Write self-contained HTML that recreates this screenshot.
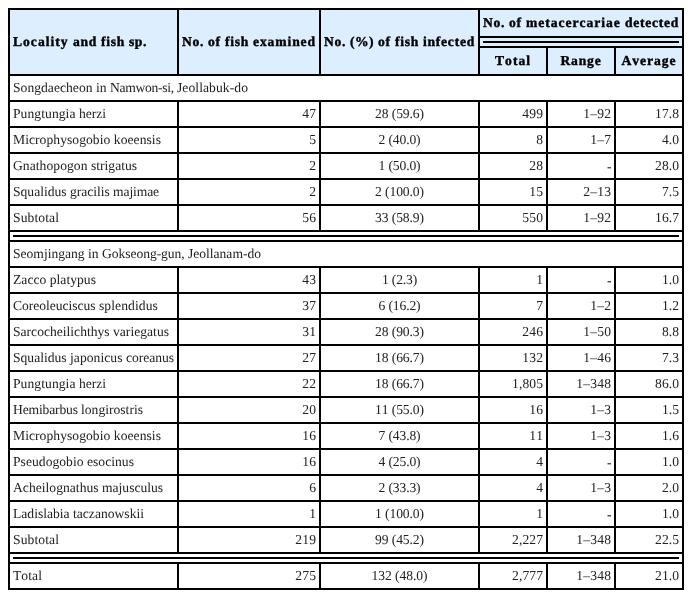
<!DOCTYPE html>
<html>
<head>
<meta charset="utf-8">
<title>Table</title>
<style>
html,body{margin:0;padding:0;background:#fff;}
body{width:692px;height:598px;overflow:hidden;font-family:"Liberation Serif",serif;font-size:13.6px;color:#000;text-rendering:geometricPrecision;font-kerning:none;font-variant-ligatures:none;}
table{position:absolute;left:8px;top:8px;width:676px;border:1px solid #000;border-collapse:separate;border-spacing:0;table-layout:fixed;will-change:transform;transform:translateZ(0);}
td,th{border:1px solid #000;padding:0 3px 1px 3px;box-sizing:border-box;height:26px;line-height:15px;vertical-align:middle;font-size:13.6px;font-weight:normal;overflow:hidden;white-space:nowrap;text-align:left;color:#222;}
th{background:#ddeeff;font-weight:bold;height:28px;color:#000;-webkit-text-stroke:0.4px #000;}
.c{text-align:center;}
.r{text-align:right;}
.hr td,.hr th{height:10px;padding:3px;line-height:0;font-size:0;}
.hr div{height:2px;background:#000;}
</style>
</head>
<body>
<table>
<colgroup><col style="width:169px"><col style="width:142px"><col style="width:159px"><col style="width:68px"><col style="width:68px"><col style="width:68px"></colgroup>
<tr><th rowspan="3"><span style="letter-spacing:1.003px">Locality </span><span style="letter-spacing:0.671px">and </span><span style="letter-spacing:0.689px">fish </span><span style="letter-spacing:0.583px">sp.</span></th><th class="c" rowspan="3"><span style="letter-spacing:0.647px">No. </span><span style="letter-spacing:0.759px">of </span><span style="letter-spacing:0.689px">fish </span><span style="letter-spacing:0.889px">examined</span></th><th class="c" rowspan="3"><span style="letter-spacing:0.647px">No. </span><span style="letter-spacing:0.488px">(%) </span><span style="letter-spacing:0.759px">of </span><span style="letter-spacing:0.689px">fish </span><span style="letter-spacing:0.743px">infected</span></th><th class="c" colspan="3"><span style="letter-spacing:0.647px">No. </span><span style="letter-spacing:0.759px">of </span><span style="letter-spacing:0.953px">metacercariae </span><span style="letter-spacing:0.711px">detected</span></th></tr>
<tr class="hr"><th colspan="3"><div></div></th></tr>
<tr><th class="c" style="letter-spacing:1.006px">Total</th><th class="c" style="letter-spacing:0.797px">Range</th><th class="c" style="letter-spacing:0.955px">Average</th></tr>
<tr><td colspan="6"><span style="letter-spacing:0.025px">Songdaecheon </span><span style="letter-spacing:0.009px">in </span><span style="letter-spacing:-0.293px">Namwon-si, </span><span style="letter-spacing:0.065px">Jeollabuk-do</span></td></tr>
<tr><td><span style="letter-spacing:0.061px">Pungtungia </span><span style="letter-spacing:-0.034px">herzi</span></td><td class="r" style="letter-spacing:0.203px;padding-right:2.797px">47</td><td class="c" style="letter-spacing:-0.094px">28 (59.6)</td><td class="r" style="letter-spacing:0.203px;padding-right:2.797px">499</td><td class="r" style="letter-spacing:0.203px;padding-right:2.797px">1–92</td><td class="r" style="letter-spacing:0.051px;padding-right:2.949px">17.8</td></tr>
<tr><td style="letter-spacing:0.046px">Microphysogobio koeensis</td><td class="r" style="letter-spacing:0.203px;padding-right:2.797px">5</td><td class="c" style="letter-spacing:-0.131px">2 (40.0)</td><td class="r" style="letter-spacing:0.203px;padding-right:2.797px">8</td><td class="r" style="letter-spacing:0.203px;padding-right:2.797px">1–7</td><td class="r" style="letter-spacing:0px;padding-right:3px">4.0</td></tr>
<tr><td><span style="letter-spacing:0.05px">Gnathopogon </span><span style="letter-spacing:-0.007px">strigatus</span></td><td class="r" style="letter-spacing:0.203px;padding-right:2.797px">2</td><td class="c" style="letter-spacing:-0.131px">1 (50.0)</td><td class="r" style="letter-spacing:0.203px;padding-right:2.797px">28</td><td class="r" style="letter-spacing:-0.531px;padding-right:3.531px"><span style="position:relative;top:0.7px;left:0.4px;color:#000">-</span></td><td class="r" style="letter-spacing:0.051px;padding-right:2.949px">28.0</td></tr>
<tr><td><span style="letter-spacing:-0.003px">Squalidus </span><span style="letter-spacing:-0.046px">gracilis </span><span style="letter-spacing:-0.115px">majimae</span></td><td class="r" style="letter-spacing:0.203px;padding-right:2.797px">2</td><td class="c" style="letter-spacing:-0.094px">2 (100.0)</td><td class="r" style="letter-spacing:0.203px;padding-right:2.797px">15</td><td class="r" style="letter-spacing:0.203px;padding-right:2.797px">2–13</td><td class="r" style="letter-spacing:0px;padding-right:3px">7.5</td></tr>
<tr><td style="letter-spacing:0.084px">Subtotal</td><td class="r" style="letter-spacing:0.203px;padding-right:2.797px">56</td><td class="c" style="letter-spacing:-0.094px">33 (58.9)</td><td class="r" style="letter-spacing:0.203px;padding-right:2.797px">550</td><td class="r" style="letter-spacing:0.203px;padding-right:2.797px">1–92</td><td class="r" style="letter-spacing:0.051px;padding-right:2.949px">16.7</td></tr>
<tr class="hr"><td colspan="6"><div></div></td></tr>
<tr><td colspan="6"><span style="letter-spacing:-0.012px">Seomjingang </span><span style="letter-spacing:0.009px">in </span><span style="letter-spacing:-0.06px">Gokseong-gun, </span><span style="letter-spacing:-0.02px">Jeollanam-do</span></td></tr>
<tr><td style="letter-spacing:0.023px">Zacco platypus</td><td class="r" style="letter-spacing:0.203px;padding-right:2.797px">43</td><td class="c" style="letter-spacing:-0.179px">1 (2.3)</td><td class="r" style="letter-spacing:0.203px;padding-right:2.797px">1</td><td class="r" style="letter-spacing:-0.531px;padding-right:3.531px"><span style="position:relative;top:0.7px;left:0.4px;color:#000">-</span></td><td class="r" style="letter-spacing:0px;padding-right:3px">1.0</td></tr>
<tr><td><span style="letter-spacing:-0.03px">Coreoleuciscus </span><span style="letter-spacing:0.084px">splendidus</span></td><td class="r" style="letter-spacing:0.203px;padding-right:2.797px">37</td><td class="c" style="letter-spacing:-0.131px">6 (16.2)</td><td class="r" style="letter-spacing:0.203px;padding-right:2.797px">7</td><td class="r" style="letter-spacing:0.203px;padding-right:2.797px">1–2</td><td class="r" style="letter-spacing:0px;padding-right:3px">1.2</td></tr>
<tr><td><span style="letter-spacing:-0.002px">Sarcocheilichthys </span><span style="letter-spacing:0.013px">variegatus</span></td><td class="r" style="letter-spacing:0.203px;padding-right:2.797px">31</td><td class="c" style="letter-spacing:-0.094px">28 (90.3)</td><td class="r" style="letter-spacing:0.203px;padding-right:2.797px">246</td><td class="r" style="letter-spacing:0.203px;padding-right:2.797px">1–50</td><td class="r" style="letter-spacing:0px;padding-right:3px">8.8</td></tr>
<tr><td><span style="letter-spacing:-0.003px">Squalidus </span><span style="letter-spacing:0.05px">japonicus </span><span style="letter-spacing:-0.039px">coreanus</span></td><td class="r" style="letter-spacing:0.203px;padding-right:2.797px">27</td><td class="c" style="letter-spacing:-0.094px">18 (66.7)</td><td class="r" style="letter-spacing:0.203px;padding-right:2.797px">132</td><td class="r" style="letter-spacing:0.203px;padding-right:2.797px">1–46</td><td class="r" style="letter-spacing:0px;padding-right:3px">7.3</td></tr>
<tr><td><span style="letter-spacing:0.061px">Pungtungia </span><span style="letter-spacing:-0.034px">herzi</span></td><td class="r" style="letter-spacing:0.203px;padding-right:2.797px">22</td><td class="c" style="letter-spacing:-0.094px">18 (66.7)</td><td class="r" style="letter-spacing:0.081px;padding-right:2.919px">1,805</td><td class="r" style="letter-spacing:0.203px;padding-right:2.797px">1–348</td><td class="r" style="letter-spacing:0.051px;padding-right:2.949px">86.0</td></tr>
<tr><td><span style="letter-spacing:-0.168px">Hemibarbus </span><span style="letter-spacing:0.005px">longirostris</span></td><td class="r" style="letter-spacing:0.203px;padding-right:2.797px">20</td><td class="c" style="letter-spacing:-0.094px">11 (55.0)</td><td class="r" style="letter-spacing:0.203px;padding-right:2.797px">16</td><td class="r" style="letter-spacing:0.203px;padding-right:2.797px">1–3</td><td class="r" style="letter-spacing:0px;padding-right:3px">1.5</td></tr>
<tr><td style="letter-spacing:0.046px">Microphysogobio koeensis</td><td class="r" style="letter-spacing:0.203px;padding-right:2.797px">16</td><td class="c" style="letter-spacing:-0.131px">7 (43.8)</td><td class="r" style="letter-spacing:0.203px;padding-right:2.797px">11</td><td class="r" style="letter-spacing:0.203px;padding-right:2.797px">1–3</td><td class="r" style="letter-spacing:0px;padding-right:3px">1.6</td></tr>
<tr><td><span style="letter-spacing:0.03px">Pseudogobio </span><span style="letter-spacing:0.023px">esocinus</span></td><td class="r" style="letter-spacing:0.203px;padding-right:2.797px">16</td><td class="c" style="letter-spacing:-0.131px">4 (25.0)</td><td class="r" style="letter-spacing:0.203px;padding-right:2.797px">4</td><td class="r" style="letter-spacing:-0.531px;padding-right:3.531px"><span style="position:relative;top:0.7px;left:0.4px;color:#000">-</span></td><td class="r" style="letter-spacing:0px;padding-right:3px">1.0</td></tr>
<tr><td><span style="letter-spacing:0.019px">Acheilognathus </span><span style="letter-spacing:-0.017px">majusculus</span></td><td class="r" style="letter-spacing:0.203px;padding-right:2.797px">6</td><td class="c" style="letter-spacing:-0.131px">2 (33.3)</td><td class="r" style="letter-spacing:0.203px;padding-right:2.797px">4</td><td class="r" style="letter-spacing:0.203px;padding-right:2.797px">1–3</td><td class="r" style="letter-spacing:0px;padding-right:3px">2.0</td></tr>
<tr><td style="letter-spacing:0.001px">Ladislabia taczanowskii</td><td class="r" style="letter-spacing:0.203px;padding-right:2.797px">1</td><td class="c" style="letter-spacing:-0.094px">1 (100.0)</td><td class="r" style="letter-spacing:0.203px;padding-right:2.797px">1</td><td class="r" style="letter-spacing:-0.531px;padding-right:3.531px"><span style="position:relative;top:0.7px;left:0.4px;color:#000">-</span></td><td class="r" style="letter-spacing:0px;padding-right:3px">1.0</td></tr>
<tr><td style="letter-spacing:0.084px">Subtotal</td><td class="r" style="letter-spacing:0.203px;padding-right:2.797px">219</td><td class="c" style="letter-spacing:-0.094px">99 (45.2)</td><td class="r" style="letter-spacing:0.081px;padding-right:2.919px">2,227</td><td class="r" style="letter-spacing:0.203px;padding-right:2.797px">1–348</td><td class="r" style="letter-spacing:0.051px;padding-right:2.949px">22.5</td></tr>
<tr class="hr"><td colspan="6"><div></div></td></tr>
<tr><td style="letter-spacing:0.059px">Total</td><td class="r" style="letter-spacing:0.203px;padding-right:2.797px">275</td><td class="c" style="letter-spacing:-0.064px">132 (48.0)</td><td class="r" style="letter-spacing:0.081px;padding-right:2.919px">2,777</td><td class="r" style="letter-spacing:0.203px;padding-right:2.797px">1–348</td><td class="r" style="letter-spacing:0.051px;padding-right:2.949px">21.0</td></tr>
</table>
</body>
</html>
